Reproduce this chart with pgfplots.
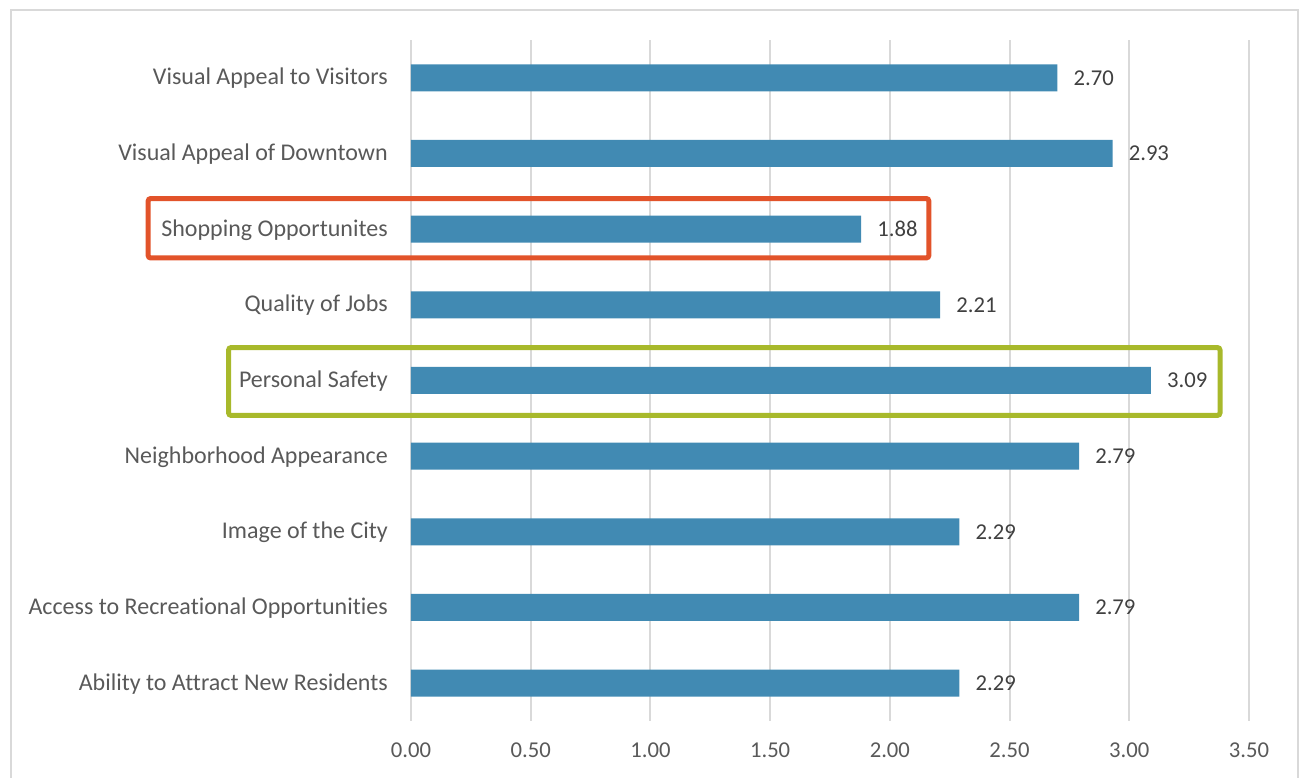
\documentclass[border=0pt]{standalone}
\usepackage{fontspec}
\setmainfont[Ligatures={NoCommon}]{Carlito}
\usepackage{pgfplots}
\pgfplotsset{compat=1.18}
\definecolor{barblue}{HTML}{418AB3}
\definecolor{gridgray}{HTML}{D9D9D9}
\definecolor{labgray}{HTML}{595959}
\definecolor{valgray}{HTML}{404040}
\definecolor{hlorange}{HTML}{E2532A}
\definecolor{hlgreen}{HTML}{A8B92B}
\begin{document}
\begin{tikzpicture}
\begin{axis}[
  scale only axis,
  width=628.5pt, height=510.75pt,
  xmin=0, xmax=3.5, ymin=-0.5, ymax=8.5,
  clip=false,
  xbar, bar width=20.25pt,
  xtick={0,0.5,1,1.5,2,2.5,3,3.5},
  ytick={0,1,2,3,4,5,6,7,8},
  yticklabels={Ability to Attract New Residents, Access to Recreational Opportunities, Image of the City, Neighborhood Appearance, Personal Safety, Quality of Jobs, Shopping Opportunites, Visual Appeal of Downtown, Visual Appeal to Visitors},
  xmajorgrids, ymajorgrids=false,
  grid style={gridgray, line width=1.5pt},
  axis line style={draw=none},
  major tick length=0pt, tick style={draw=none},
  tick label style={text=labgray},
  xticklabel style={anchor=north, inner sep=0pt, yshift=-16.4pt, font=\fontsize{17}{20}\selectfont,
    /pgf/number format/.cd, fixed, fixed zerofill, precision=2, assume math mode=true},
  yticklabel style={anchor=east, inner sep=0pt, xshift=-17.25pt, yshift=-0.5pt, font=\fontsize{18}{21}\selectfont},
  nodes near coords,
  nodes near coords align={horizontal},
  every node near coord/.append style={anchor=west, inner sep=0pt, xshift=12pt,
    font=\fontsize{17}{20}\selectfont, text=valgray,
    /pgf/number format/.cd, fixed, fixed zerofill, precision=2, assume math mode=true},
]
\addplot[fill=barblue, draw=none] coordinates {
  (2.29,0) (2.79,1) (2.29,2) (2.79,3) (3.09,4) (2.21,5) (1.88,6) (2.93,7) (2.70,8)
};
\draw[hlorange, line width=3.75pt, rounded corners=2pt]
  (axis cs:-1.098,5.619) rectangle (axis cs:2.163,6.405);
\draw[hlgreen, line width=3.75pt, rounded corners=2pt]
  (axis cs:-0.762,3.538) rectangle (axis cs:3.379,4.436);
\draw[gridgray, line width=1.5pt] (axis cs:-1.6706,-1.4) -- (axis cs:-1.6706,8.890) -- (axis cs:3.7046,8.890) -- (axis cs:3.7046,-1.4);
\coordinate (pgSW) at (axis cs:-1.7166,-1.2528);
\coordinate (pgNE) at (axis cs:3.7088,9.0287);
\end{axis}
\pgfresetboundingbox
\path[use as bounding box] (pgSW) rectangle (pgNE);
\end{tikzpicture}
\end{document}
